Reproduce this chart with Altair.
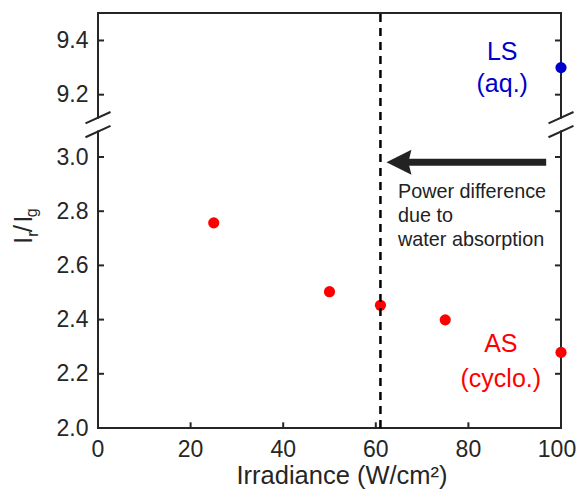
import altair as alt
import pandas as pd

# ---------------- data ----------------
as_x = [25, 50, 61, 75, 100]
as_y = [2.757, 2.503, 2.453, 2.399, 2.279]
ls_x = [100]
ls_y = [9.30]
x_ticks = [0, 20, 40, 60, 80, 100]
x_tick_labels = ["0", "20", "40", "60", "80", "100"]
y_ticks = [2.0, 2.2, 2.4, 2.6, 2.8, 3.0, 9.2, 9.4]
dash_x = 61
arrow_tail_x, arrow_head_x, arrow_y = 96.8, 65.0, 2.981

# broken axis: upper panel values are shifted down by BREAK_SHIFT
BREAK_SHIFT = 5.97
Y_MIN, Y_MAX = 2.0, 3.5314
X_MIN, X_MAX = 0, 100


def t(v):
    return v - BREAK_SHIFT if v > 5 else v


FONT = "Liberation Sans"
INK = "#262626"
RED = "#ff0000"
BLUE = "#0000cd"

xs = alt.Scale(domain=[X_MIN, X_MAX], nice=False, zero=False)
ys = alt.Scale(domain=[Y_MIN, Y_MAX], nice=False, zero=False)

y_axis = alt.Axis(
    values=[t(v) for v in y_ticks],
    title=None,
    labelExpr="datum.value > 3.1 ? format(datum.value + %s, '.1f') : format(datum.value, '.1f')" % BREAK_SHIFT,
)


def enc(**kw):
    return dict(
        x=alt.X("x:Q", scale=xs, axis=None),
        y=alt.Y("y:Q", scale=ys, axis=y_axis),
        **kw,
    )


# ---------------- frame with the break ----------------
gap_lo, gap_hi = 3.094, 3.145
frame = pd.DataFrame([
    dict(x=X_MIN, x2=X_MIN, y=Y_MIN, y2=gap_lo),
    dict(x=X_MIN, x2=X_MIN, y=gap_hi, y2=Y_MAX),
    dict(x=X_MAX, x2=X_MAX, y=Y_MIN, y2=gap_lo),
    dict(x=X_MAX, x2=X_MAX, y=gap_hi, y2=Y_MAX),
    dict(x=X_MIN, x2=X_MAX, y=Y_MIN, y2=Y_MIN),
    dict(x=X_MIN, x2=X_MAX, y=Y_MAX, y2=Y_MAX),
])
frame_layer = alt.Chart(frame).mark_rule(color=INK, strokeWidth=2, strokeCap="square").encode(
    **enc(x2="x2:Q", y2="y2:Q"))

slash_dx = 2.7
slashes = pd.DataFrame([
    dict(x=e - slash_dx, x2=e + slash_dx, y=lo, y2=hi)
    for e in (X_MIN, X_MAX)
    for lo, hi in ((3.124, 3.166), (3.073, 3.115))
])
slash_layer = alt.Chart(slashes).mark_rule(color=INK, strokeWidth=2).encode(
    **enc(x2="x2:Q", y2="y2:Q"))

# ---------------- inward ticks ----------------
tick_len_x, tick_len_y = 1.3, 0.021
ticks = []
for v in y_ticks[1:]:
    ticks.append(dict(x=X_MIN, x2=X_MIN + tick_len_x, y=t(v), y2=t(v)))
    ticks.append(dict(x=X_MAX - tick_len_x, x2=X_MAX, y=t(v), y2=t(v)))
for v in x_ticks[1:-1]:
    ticks.append(dict(x=v, x2=v, y=Y_MIN, y2=Y_MIN + tick_len_y))
tick_layer = alt.Chart(pd.DataFrame(ticks)).mark_rule(color=INK, strokeWidth=2).encode(
    **enc(x2="x2:Q", y2="y2:Q"))

# ---------------- x tick labels ----------------
xlab_y = 1.8948
xlab_df = pd.DataFrame(dict(x=x_ticks[:-1], y=[xlab_y] * 5, text=x_tick_labels[:-1]))
xlab_last = pd.DataFrame(dict(x=x_ticks[-1:], y=[xlab_y], text=x_tick_labels[-1:]))
xlab_layer = alt.Chart(xlab_df).mark_text(font=FONT, fontSize=23, color=INK, align="center",
                                          baseline="alphabetic").encode(**enc(text="text:N"))
xlab_last_layer = alt.Chart(xlab_last).mark_text(font=FONT, fontSize=23, color=INK, align="center",
                                                 baseline="alphabetic", dx=-4).encode(**enc(text="text:N"))

# ---------------- dashed line ----------------
dash_df = pd.DataFrame([dict(x=dash_x, y=Y_MIN, y2=Y_MAX)])
dash_layer = alt.Chart(dash_df).mark_rule(color="black", strokeWidth=2.5, strokeDash=[8, 6]).encode(
    **enc(y2="y2:Q"))

# ---------------- arrow ----------------
shaft_df = pd.DataFrame([dict(x=arrow_head_x, x2=arrow_tail_x, y=arrow_y)])
shaft_layer = alt.Chart(shaft_df).mark_rule(color="#222222", strokeWidth=7, strokeCap="butt").encode(
    **enc(x2="x2:Q"))
head_df = pd.DataFrame([dict(x=arrow_head_x, y=arrow_y)])
head_layer = alt.Chart(head_df).mark_point(
    shape="M -1 0 L 1 -1 L 0.75 0 L 1 1 Z", filled=True, size=625,
    color="#222222", opacity=1, strokeWidth=0).encode(**enc())

# ---------------- points ----------------
as_df = pd.DataFrame(dict(x=as_x, y=[t(v) for v in as_y]))
ls_df = pd.DataFrame(dict(x=ls_x, y=[t(v) for v in ls_y]))
as_layer = alt.Chart(as_df).mark_circle(color=RED, size=125, opacity=1).encode(**enc())
ls_layer = alt.Chart(ls_df).mark_circle(color=BLUE, size=125, opacity=1).encode(**enc())

# ---------------- texts ----------------
ls_text = pd.DataFrame(dict(x=[87.3, 87.3], y=[3.358, 3.240], text=["LS", "(aq.)"]))
as_text = pd.DataFrame(dict(x=[87.0, 87.0], y=[2.280, 2.151], text=["AS", "(cyclo.)"]))
note_text = pd.DataFrame(dict(x=[64.8] * 3, y=[2.849, 2.760, 2.672],
                              text=["Power difference", "due to", "water absorption"]))
xtitle = pd.DataFrame(dict(x=[52.7], y=[1.793], text=["Irradiance (W/cm\u00b2)"]))
ytitle_big = pd.DataFrame(dict(x=[-14.3, -14.3, -14.3], y=[2.679, 2.722, 2.757], text=["I", "/", "I"]))
ytitle_sub = pd.DataFrame(dict(x=[-13.0, -13.1], y=[2.706, 2.778], text=["r", "g"]))

ls_t = alt.Chart(ls_text).mark_text(font=FONT, fontSize=25, color=BLUE, align="center",
                                    baseline="alphabetic").encode(**enc(text="text:N"))
as_t = alt.Chart(as_text).mark_text(font=FONT, fontSize=25, color=RED, align="center",
                                    baseline="alphabetic").encode(**enc(text="text:N"))
note_t = alt.Chart(note_text).mark_text(font=FONT, fontSize=19.8, color="#222222", align="left",
                                        baseline="alphabetic").encode(**enc(text="text:N"))
xt = alt.Chart(xtitle).mark_text(font=FONT, fontSize=25.5, color=INK, align="center",
                                 baseline="alphabetic").encode(**enc(text="text:N"))
yt_big = alt.Chart(ytitle_big).mark_text(font=FONT, fontSize=26, color=INK, align="left",
                                         baseline="alphabetic", angle=270).encode(**enc(text="text:N"))
yt_sub = alt.Chart(ytitle_sub).mark_text(font=FONT, fontSize=16, color=INK, align="left",
                                         baseline="alphabetic", angle=270).encode(**enc(text="text:N"))

chart = alt.layer(
    frame_layer, slash_layer, tick_layer, shaft_layer, head_layer,
    as_layer, ls_layer, dash_layer,
    xlab_layer, xlab_last_layer,
    ls_t, as_t, note_t, xt, yt_big, yt_sub,
).properties(
    width=463, height=415,
    autosize=alt.AutoSizeParams(type="none"),
    padding={"left": 90, "top": 5, "right": 15, "bottom": 63},
    background="white",
).configure_view(
    strokeWidth=0,
).configure_axis(
    grid=False, domain=False, ticks=False, tickSize=0,
    labelFont=FONT, labelFontSize=23, labelColor=INK, labelPadding=10,
)

chart.save("out.html", embed_options={"renderer": "svg", "actions": False})
